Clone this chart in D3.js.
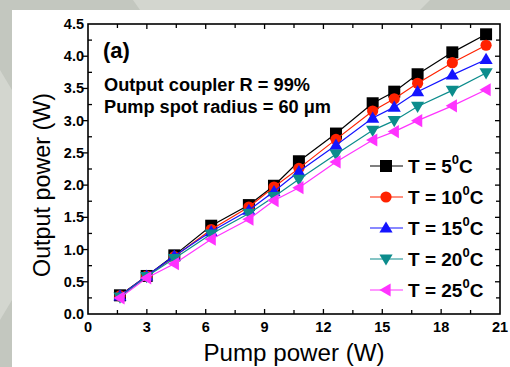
<!DOCTYPE html>
<html>
<head>
<meta charset="utf-8">
<script src="https://cdn.jsdelivr.net/npm/d3@7"></script>
<style>
  html, body { margin: 0; padding: 0; background: #c3c7bf; }
  svg { display: block; font-family: Arial, "Liberation Sans", sans-serif; }
</style>
</head>
<body>
<svg id="chart" width="510" height="367"></svg>
<script>
// Pump power (W) at each measurement
const pump = [1.63, 2.99, 4.40, 6.28, 8.20, 9.48, 10.75, 12.64, 14.51, 15.61, 16.80, 18.57, 20.29];

// Output power (W) for each heat-sink temperature
const t5  = [0.29, 0.59, 0.91, 1.37, 1.69, 1.99, 2.37, 2.80, 3.27, 3.45, 3.72, 4.06, 4.34];
const t10 = [0.28, 0.59, 0.89, 1.31, 1.66, 1.97, 2.26, 2.71, 3.15, 3.34, 3.58, 3.90, 4.17];
const t15 = [0.28, 0.59, 0.90, 1.28, 1.61, 1.90, 2.21, 2.62, 3.04, 3.21, 3.45, 3.71, 3.95];
const t20 = [0.26, 0.58, 0.86, 1.24, 1.56, 1.82, 2.09, 2.48, 2.85, 3.00, 3.22, 3.47, 3.74];
const t25 = [0.25, 0.56, 0.78, 1.16, 1.47, 1.76, 1.96, 2.36, 2.70, 2.83, 3.00, 3.23, 3.48];

const temps = ["5", "10", "15", "20", "25"];
const xTicks = [0, 3, 6, 9, 12, 15, 18, 21];
const yTicks = [0.0, 0.5, 1.0, 1.5, 2.0, 2.5, 3.0, 3.5, 4.0, 4.5];

const series = [
  { temp: temps[0], values: t5,  color: "#000000", shape: "square" },
  { temp: temps[1], values: t10, color: "#ff2200", shape: "circle" },
  { temp: temps[2], values: t15, color: "#1414ff", shape: "up" },
  { temp: temps[3], values: t20, color: "#0c8c8c", shape: "down" },
  { temp: temps[4], values: t25, color: "#ff33ff", shape: "left" }
];

const svg = d3.select("#chart");
const W = 510, H = 367;

// backdrop: grey frame with faint lighter facets, white page
svg.append("rect").attr("width", W).attr("height", H).attr("fill", "#c3c7bf");
svg.append("polygon").attr("points", "133,0 430,0 420,10 140,10").attr("fill", "#d3d6cf");
svg.append("polygon").attr("points", "0,70 12,90 12,300 0,320").attr("fill", "#d3d6cf");
svg.append("rect").attr("x", 12).attr("y", 10).attr("width", W - 12).attr("height", H - 10).attr("fill", "#ffffff");

const m = { left: 88, right: 500, top: 24, bottom: 314 };
const x = d3.scaleLinear().domain([0, 21]).range([m.left, m.right]);
const y = d3.scaleLinear().domain([0, 4.5]).range([m.bottom, m.top]);

const g = svg.append("g");

// frame
g.append("rect")
  .attr("x", m.left).attr("y", m.top)
  .attr("width", m.right - m.left).attr("height", m.bottom - m.top)
  .attr("fill", "none").attr("stroke", "#000").attr("stroke-width", 1.6);

const xMinor = d3.range(1.5, 21, 3);
const yMinor = d3.range(0.25, 4.5, 0.5);

function tickLines(axis, vals, len) {
  // len > 0 points into the plot, len < 0 points outward
  vals.forEach(v => {
    let x1, y1, x2, y2;
    if (axis === "bottom") { x1 = x2 = x(v); y1 = m.bottom; y2 = m.bottom - len; }
    if (axis === "top")    { x1 = x2 = x(v); y1 = m.top;    y2 = m.top + len; }
    if (axis === "left")   { y1 = y2 = y(v); x1 = m.left;   x2 = m.left + len; }
    if (axis === "right")  { y1 = y2 = y(v); x1 = m.right;  x2 = m.right - len; }
    g.append("line").attr("x1", x1).attr("y1", y1).attr("x2", x2).attr("y2", y2)
      .attr("stroke", "#000").attr("stroke-width", 1.3);
  });
}
const xMajorInner = xTicks.slice(1, -1);
const yMajorInner = yTicks.slice(1, -1);
tickLines("bottom", xMajorInner, 5);
tickLines("bottom", xMinor, 4);
tickLines("top", xMajorInner, 5);
tickLines("top", xMinor, 4);
tickLines("left", yMajorInner, -5);
tickLines("left", yMinor, 4);
tickLines("right", yMajorInner, 5);
tickLines("right", yMinor, 4);

// tick labels
g.selectAll(".xl").data(xTicks).enter().append("text")
  .attr("x", d => x(d)).attr("y", 332)
  .attr("text-anchor", "middle").attr("font-weight", "bold").attr("font-size", 14.5)
  .text(d => d);
g.selectAll(".yl").data(yTicks).enter().append("text")
  .attr("x", 84).attr("y", d => y(d) + 5)
  .attr("text-anchor", "end").attr("font-weight", "bold").attr("font-size", 14.5)
  .text(d => d.toFixed(1));

// axis titles
svg.append("text").attr("x", 294).attr("y", 361).attr("text-anchor", "middle")
  .attr("font-size", 23).attr("textLength", 181).attr("lengthAdjust", "spacingAndGlyphs")
  .text("Pump power (W)");
svg.append("text").attr("transform", "translate(50,185) rotate(-90)")
  .attr("text-anchor", "middle").attr("font-size", 24)
  .attr("textLength", 184).attr("lengthAdjust", "spacingAndGlyphs")
  .text("Output power (W)");

// annotations
svg.append("text").attr("x", 103).attr("y", 58).attr("font-weight", "bold").attr("font-size", 22).text("(a)");
svg.append("text").attr("x", 104).attr("y", 91).attr("font-weight", "bold").attr("font-size", 18)
  .attr("textLength", 206).attr("lengthAdjust", "spacingAndGlyphs")
  .text("Output coupler R = 99%");
svg.append("text").attr("x", 104).attr("y", 113).attr("font-weight", "bold").attr("font-size", 18)
  .attr("textLength", 227).attr("lengthAdjust", "spacingAndGlyphs")
  .text("Pump spot radius = 60 \u03bcm");

// marker shapes
function marker(sel, shape, color, cx, cy) {
  const s = 6;
  if (shape === "square") {
    sel.append("rect").attr("x", cx - s).attr("y", cy - s).attr("width", 2 * s).attr("height", 2 * s).attr("fill", color);
  } else if (shape === "circle") {
    sel.append("circle").attr("cx", cx).attr("cy", cy).attr("r", 5.6).attr("fill", color);
  } else {
    const r = 6.6;
    let pts;
    if (shape === "up")   pts = [[cx, cy - r], [cx - r, cy + r * 0.7], [cx + r, cy + r * 0.7]];
    if (shape === "down") pts = [[cx, cy + r], [cx - r, cy - r * 0.7], [cx + r, cy - r * 0.7]];
    if (shape === "left") pts = [[cx - r, cy], [cx + r * 0.7, cy - r], [cx + r * 0.7, cy + r]];
    sel.append("polygon").attr("points", pts.map(p => p.join(",")).join(" ")).attr("fill", color);
  }
}

const line = d3.line().x(d => x(d[0])).y(d => y(d[1]));

series.forEach(s => {
  const pts = pump.map((p, i) => [p, s.values[i]]);
  const sg = g.append("g");
  sg.append("path").attr("d", line(pts)).attr("fill", "none").attr("stroke", s.color).attr("stroke-width", 1.2);
  pts.forEach(p => marker(sg, s.shape, s.color, x(p[0]), y(p[1])));
});

// legend
const legY = [173, 204, 235, 266, 297];
series.forEach((s, i) => {
  const lg = svg.append("g");
  const cy = legY[i] - 7;
  lg.append("line").attr("x1", 370).attr("x2", 403).attr("y1", cy).attr("y2", cy)
    .attr("stroke", s.color).attr("stroke-width", 1.2);
  marker(lg, s.shape, s.color, 386, cy);
  const t = lg.append("text").attr("x", 408).attr("y", legY[i]).attr("font-weight", "bold").attr("font-size", 19);
  t.append("tspan").text("T = " + s.temp);
  t.append("tspan").attr("font-size", 13).attr("dy", -9).text("0");
  t.append("tspan").attr("dy", 9).text("C");
});
</script>
</body>
</html>
